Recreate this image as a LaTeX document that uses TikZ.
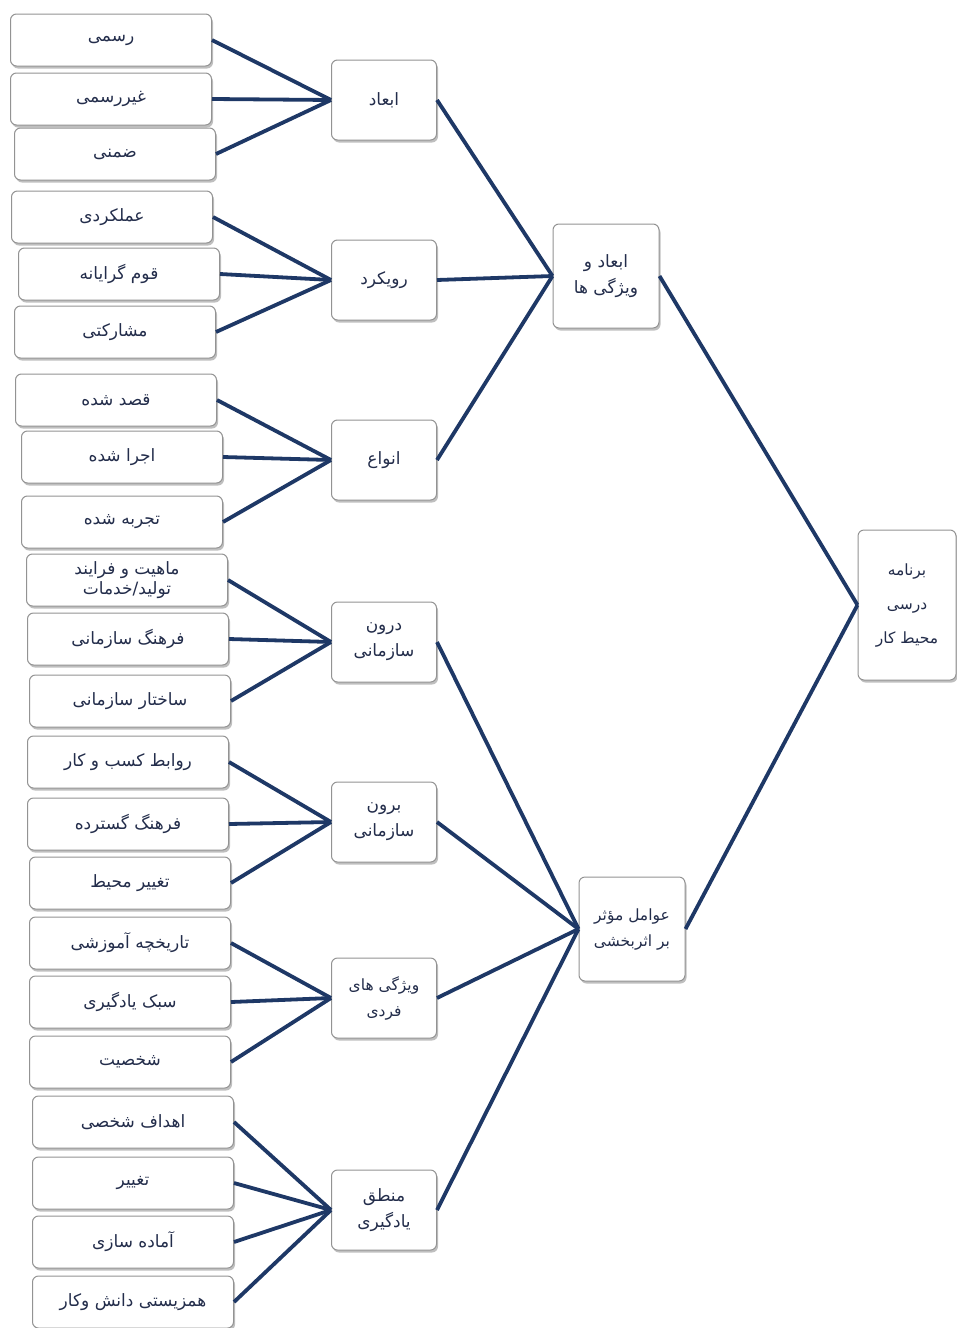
\documentclass[tikz,border=0pt]{standalone}
\usepackage{fontspec}
\newfontfamily\arabicfont[Script=Arabic]{DejaVu Sans}
\TeXXeTstate=1
\usetikzlibrary{shadows}
\newcommand{\fa}[1]{{\arabicfont\beginR #1\endR}}
\definecolor{linkblue}{RGB}{30,56,102}
\definecolor{textblue}{RGB}{35,45,75}

\begin{document}
\begin{tikzpicture}[x=1pt, y=-1pt,
	box/.style={draw=gray!85, fill=white, rounded corners=6pt, line width=1pt,
		drop shadow={shadow xshift=1.5pt, shadow yshift=-2.5pt, opacity=0.5},
		align=center, text=textblue, font=\fontsize{17}{26}\selectfont, inner sep=2pt},
	leafbox/.style={box, minimum width=201pt, minimum height=52pt},
	midbox/.style={box, minimum width=105pt, minimum height=80pt},
	topbox/.style={box, minimum width=106pt, minimum height=104pt},
	rootbox/.style={box, minimum width=98pt, minimum height=150pt},
	link/.style={draw=linkblue, line width=3.8pt}]
	\useasboundingbox (0,0) rectangle (956,1328);
	
	% Nodes {leaves}
	\node [leafbox] (rasmi)    at (111,40)   {\fa{رسمی}};
	\node [leafbox] (gheyr)    at (111,99)   {\fa{غیررسمی}};
	\node [leafbox] (zemni)    at (115,154)  {\fa{ضمنی}};
	\node [leafbox] (amal)     at (112,217)  {\fa{عملکردی}};
	\node [leafbox] (ghom)     at (119,274)  {\fa{قوم گرایانه}};
	\node [leafbox] (mosh)     at (115,332)  {\fa{مشارکتی}};
	\node [leafbox] (ghasd)    at (116,400)  {\fa{قصد شده}};
	\node [leafbox] (ejra)     at (122,457)  {\fa{اجرا شده}};
	\node [leafbox] (tajr)     at (122,522)  {\fa{تجربه شده}};
	\node [leafbox, font=\fontsize{17}{20}\selectfont] (mahiat) at (127,580)
		{\fa{ماهیت و فرایند}\\\fa{تولید/خدمات}};
	\node [leafbox] (farsaz)   at (128,639)  {\fa{فرهنگ سازمانی}};
	\node [leafbox] (sakht)    at (130,701)  {\fa{ساختار سازمانی}};
	\node [leafbox] (ravab)    at (128,762)  {\fa{روابط کسب و کار}};
	\node [leafbox] (fargos)   at (128,824)  {\fa{فرهنگ گسترده}};
	\node [leafbox] (taghmoh)  at (130,883)  {\fa{تغییر محیط}};
	\node [leafbox] (tarikh)   at (130,943)  {\fa{تاریخچه آموزشی}};
	\node [leafbox] (sabk)     at (130,1002) {\fa{سبک یادگیری}};
	\node [leafbox] (shakh)    at (130,1062) {\fa{شخصیت}};
	\node [leafbox] (ahdaf)    at (133,1122) {\fa{اهداف شخصی}};
	\node [leafbox] (taghyir)  at (133,1183) {\fa{تغییر}};
	\node [leafbox] (amade)    at (133,1242) {\fa{آماده سازی}};
	\node [leafbox] (hamzist)  at (133,1302) {\fa{همزیستی دانش وکار}};
	
	% Nodes {groups}
	\node [midbox] (abad)    at (384,100)  {\fa{ابعاد}};
	\node [midbox] (rooykard) at (384,280) {\fa{رویکرد}};
	\node [midbox] (anva)    at (384,460)  {\fa{انواع}};
	\node [midbox] (daroon)  at (384,642)  {\fa{درون}\\\fa{سازمانی}};
	\node [midbox] (biroon)  at (384,822)  {\fa{برون}\\\fa{سازمانی}};
	\node [midbox, font=\fontsize{15.5}{26}\selectfont] (vizhegi) at (384,998)  {\fa{ویژگی های}\\\fa{فردی}};
	\node [midbox] (mantegh) at (384,1210) {\fa{منطق}\\\fa{یادگیری}};
	
	\node [topbox] (abadviz) at (606,276) {\fa{ابعاد و}\\\fa{ویژگی ها}};
	\node [topbox, font=\fontsize{15.5}{26}\selectfont] (avamel)  at (632,929) {\fa{عوامل مؤثر}\\\fa{بر اثربخشی}};
	
	\node [rootbox, font=\fontsize{15.5}{34}\selectfont] (barname) at (907,605) {\fa{برنامه}\\\fa{درسی}\\\fa{محیط کار}};
	
	% Paths
	\path [link] (rasmi.east) edge (abad.west);
	\path [link] (gheyr.east) edge (abad.west);
	\path [link] (zemni.east) edge (abad.west);
	\path [link] (amal.east)  edge (rooykard.west);
	\path [link] (ghom.east)  edge (rooykard.west);
	\path [link] (mosh.east)  edge (rooykard.west);
	\path [link] (ghasd.east) edge (anva.west);
	\path [link] (ejra.east)  edge (anva.west);
	\path [link] (tajr.east)  edge (anva.west);
	\path [link] (mahiat.east)  edge (daroon.west);
	\path [link] (farsaz.east)  edge (daroon.west);
	\path [link] (sakht.east)   edge (daroon.west);
	\path [link] (ravab.east)   edge (biroon.west);
	\path [link] (fargos.east)  edge (biroon.west);
	\path [link] (taghmoh.east) edge (biroon.west);
	\path [link] (tarikh.east)  edge (vizhegi.west);
	\path [link] (sabk.east)    edge (vizhegi.west);
	\path [link] (shakh.east)   edge (vizhegi.west);
	\path [link] (ahdaf.east)   edge (mantegh.west);
	\path [link] (taghyir.east) edge (mantegh.west);
	\path [link] (amade.east)   edge (mantegh.west);
	\path [link] (hamzist.east) edge (mantegh.west);
	
	\path [link] (abad.east)     edge (abadviz.west);
	\path [link] (rooykard.east) edge (abadviz.west);
	\path [link] (anva.east)     edge (abadviz.west);
	\path [link] (daroon.east)   edge (avamel.west);
	\path [link] (biroon.east)   edge (avamel.west);
	\path [link] (vizhegi.east)  edge (avamel.west);
	\path [link] (mantegh.east)  edge (avamel.west);
	
	\path [link] (abadviz.east) edge (barname.west);
	\path [link] (avamel.east)  edge (barname.west);
	
\end{tikzpicture}
\end{document}
